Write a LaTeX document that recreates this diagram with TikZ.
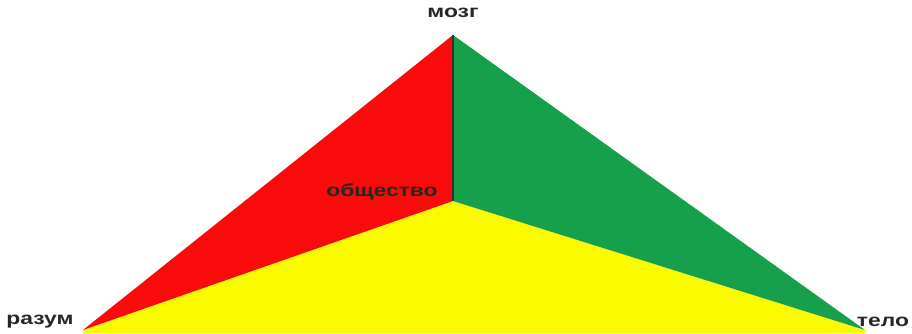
\documentclass[tikz,border=0pt]{standalone}
\usepackage{fontspec}
\usepackage{xcolor}
\newfontfamily\lblfont{Liberation Sans}[FakeStretch=1.3]
\definecolor{trired}{RGB}{250,10,10}
\definecolor{trigreen}{RGB}{22,160,75}
\definecolor{triyellow}{RGB}{250,250,0}

\begin{document}
\begin{tikzpicture}[
  lbl/.style={font=\lblfont\fontsize{10}{12}\selectfont\bfseries,text=black!85,inner sep=0pt},
  face/.style={draw=none}
]
\useasboundingbox (0,0) rectangle (18.24,6.66);

\coordinate (top)    at (9.06,5.96);
\coordinate (mid)    at (9.06,2.64);
\coordinate (left)   at (1.66,0.06);
\coordinate (right)  at (17.30,0.06);

\fill[triyellow] (left) -- (mid) -- (right) -- (17.30,0) -- (1.66,0) -- cycle;
\fill[trired] (top) -- (mid) -- (left) -- cycle;
\fill[trigreen] (top) -- (right) -- (mid) -- cycle;
\draw[black!80,line width=0.8pt] (top) -- (mid);

\node[lbl] (brain)   at (9.06,6.40) {мозг};
\node[lbl,anchor=east] (society) at (8.76,2.82) {общество};
\node[lbl] (mind)    at (0.80,0.22) {разум};
\node[lbl] (body)    at (17.66,0.22) {тело};
\end{tikzpicture}
\end{document}
